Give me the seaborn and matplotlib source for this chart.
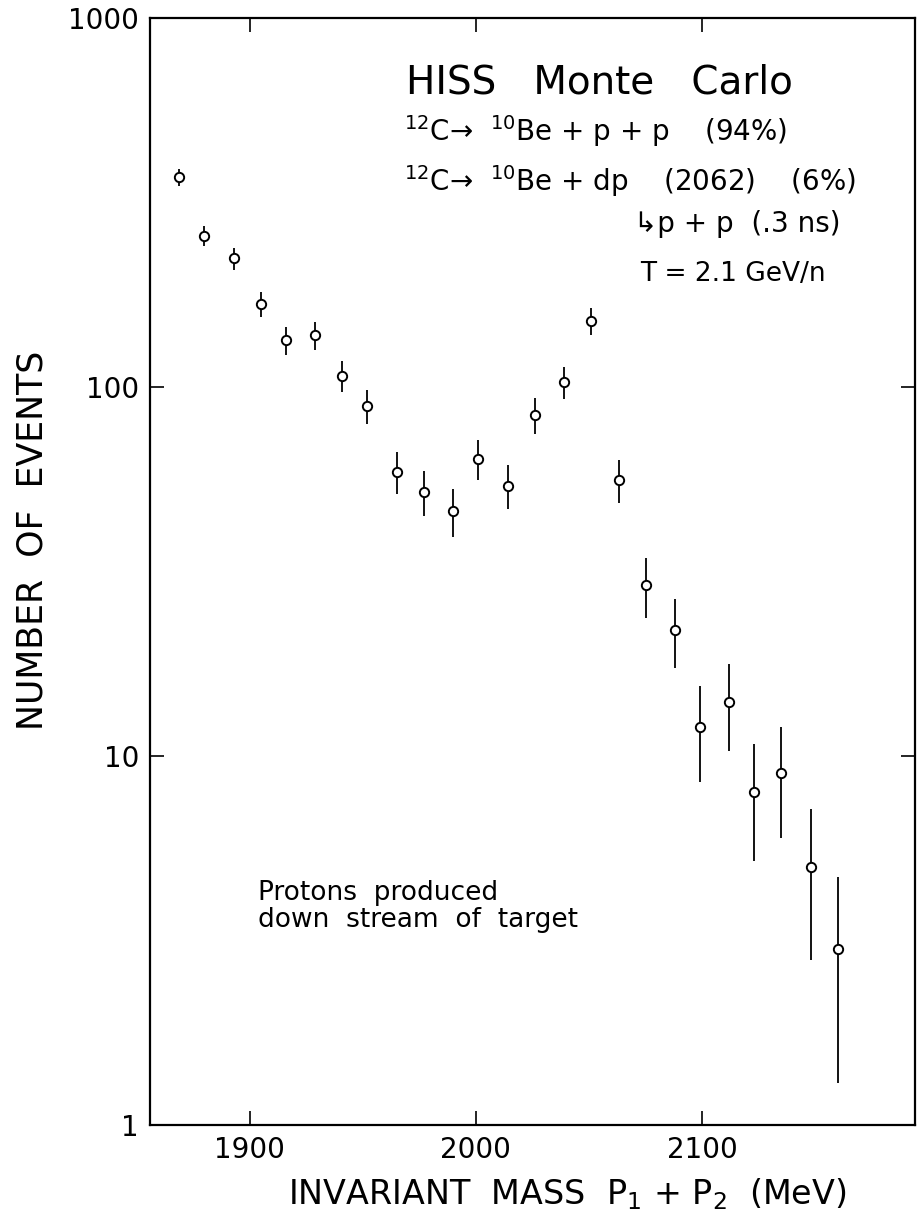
import numpy as np
import pandas as pd
import matplotlib
matplotlib.use("Agg")
import matplotlib.pyplot as plt
import seaborn as sns
from matplotlib.ticker import FixedLocator, FixedFormatter, NullLocator

# Data (invariant mass bin centres, event counts, errors)
mass = [1869, 1880, 1893, 1905, 1916, 1929, 1941, 1952, 1965, 1977, 1990, 2001,
        2014, 2026, 2039, 2051, 2063, 2075, 2088, 2099, 2112, 2123, 2135, 2148, 2160]
events = [370, 257, 223, 168, 134, 138, 107, 89, 59, 52, 46, 64,
          54, 84, 103, 151, 56, 29, 22, 12, 14, 8, 9, 5, 3]
err = [19, 16, 15, 13, 11.6, 11.7, 10.3, 9.4, 7.7, 7.2, 6.8, 8.0,
       7.3, 9.2, 10.1, 12.3, 7.5, 5.4, 4.7, 3.5, 3.7, 2.8, 3.0, 2.2, 1.7]

x_ticks = [1900, 2000, 2100]
x_ticklabels = ["1900", "2000", "2100"]
y_ticks = [1, 10, 100, 1000]
y_ticklabels = ["1", "10", "100", "1000"]

sns.set_style("ticks")
plt.rcParams['font.family'] = ['DejaVu Sans']
plt.rcParams['mathtext.fontset'] = 'dejavusans'

W, H = 918, 1214
fig = plt.figure(figsize=(W / 100, H / 100), dpi=100)
ax = fig.add_axes([150 / W, 1 - 1125 / H, 765 / W, 1107 / H])
ax.set_yscale('log')

df = pd.DataFrame({"mass": mass, "events": events, "err": err})
ax.errorbar(df["mass"], df["events"], yerr=df["err"], fmt='none',
            ecolor='black', elinewidth=1.3, capsize=0, zorder=2)
sns.scatterplot(data=df, x="mass", y="events", ax=ax, marker='o', s=45,
                facecolor='white', edgecolor='black', linewidth=1.4, zorder=3)

ax.set_xlim(1856, 2194)
ax.set_ylim(1, 1000)
ax.xaxis.set_major_locator(FixedLocator(x_ticks))
ax.xaxis.set_major_formatter(FixedFormatter(x_ticklabels))
ax.yaxis.set_major_locator(FixedLocator(y_ticks))
ax.yaxis.set_major_formatter(FixedFormatter(y_ticklabels))
ax.xaxis.set_minor_locator(NullLocator())
ax.yaxis.set_minor_locator(NullLocator())
ax.tick_params(direction='in', top=True, right=True, length=10, width=1.2,
               labelsize=20, colors='black')
ax.tick_params(axis='x', pad=8)
ax.tick_params(axis='y', pad=8)
for sp in ax.spines.values():
    sp.set_linewidth(1.6)
    sp.set_color('black')

ax.set_xlabel("INVARIANT  MASS  P$_1$ + P$_2$  (MeV)", fontsize=24, color='black')
ax.set_ylabel("NUMBER  OF  EVENTS", fontsize=25, color='black')
ax.xaxis.set_label_coords((567 - 150) / 765, (1125 - 1176) / 1107)
ax.yaxis.set_label_coords((50 - 150) / 765, (1125 - 540) / 1107)

def ftext(x, y, s, **kw):
    fig.text(x / W, 1 - y / H, s, va='center', ha='left', color='black', **kw)

ftext(406, 83, "HISS   Monte   Carlo", fontsize=28)
ftext(404, 131, "$^{12}$C\u2192  $^{10}$Be + p + p    (94%)", fontsize=20)
ftext(404, 181, "$^{12}$C\u2192  $^{10}$Be + dp    (2062)    (6%)", fontsize=20)
ftext(634, 224, "\u21b3p + p  (.3 ns)", fontsize=20)
ftext(640, 274, "T = 2.1 GeV/n", fontsize=19)
ftext(258, 893, "Protons  produced", fontsize=19)
ftext(258, 920, "down  stream  of  target", fontsize=19)

fig.savefig("out.png", dpi=100)
